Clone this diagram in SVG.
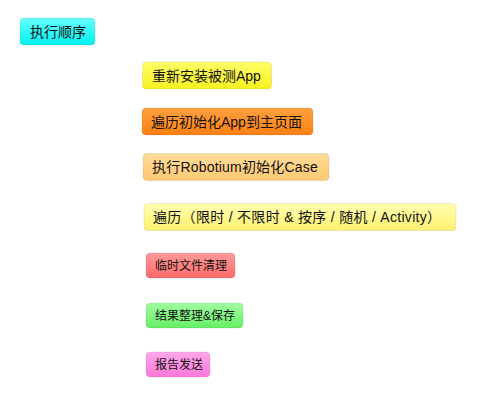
<svg xmlns="http://www.w3.org/2000/svg" width="477" height="419" viewBox="0 0 477 419">
<defs>
<linearGradient id="gCyan" x1="0" y1="0" x2="0" y2="1"><stop offset="0" stop-color="#66ffff"/><stop offset="1" stop-color="#00f0f0"/></linearGradient>
<linearGradient id="gYellow" x1="0" y1="0" x2="0" y2="1"><stop offset="0" stop-color="#ffff66"/><stop offset="1" stop-color="#f8f020"/></linearGradient>
<linearGradient id="gOrange" x1="0" y1="0" x2="0" y2="1"><stop offset="0" stop-color="#ffa040"/><stop offset="1" stop-color="#ff8010"/></linearGradient>
<linearGradient id="gLtOrange" x1="0" y1="0" x2="0" y2="1"><stop offset="0" stop-color="#ffdc9a"/><stop offset="1" stop-color="#ffc870"/></linearGradient>
<linearGradient id="gPale" x1="0" y1="0" x2="0" y2="1"><stop offset="0" stop-color="#ffffb0"/><stop offset="1" stop-color="#fff070"/></linearGradient>
<linearGradient id="gRed" x1="0" y1="0" x2="0" y2="1"><stop offset="0" stop-color="#ff9a9a"/><stop offset="1" stop-color="#ff6a6a"/></linearGradient>
<linearGradient id="gGreen" x1="0" y1="0" x2="0" y2="1"><stop offset="0" stop-color="#a0ffa0"/><stop offset="1" stop-color="#66ee66"/></linearGradient>
<linearGradient id="gPink" x1="0" y1="0" x2="0" y2="1"><stop offset="0" stop-color="#ffa8ee"/><stop offset="1" stop-color="#ff78d8"/></linearGradient>
</defs>
<style>
.box{stroke:#000;stroke-opacity:0.08;stroke-width:1}
.t{font-family:"Liberation Sans","Noto Sans CJK SC",sans-serif;fill:#111;dominant-baseline:central}
.big{font-size:14px}
.sm{font-size:12px}
</style>
<rect width="477" height="419" fill="#fff"/>
<g id="n0"><rect class="box" x="20" y="18" width="75" height="27" rx="4" fill="url(#gCyan)"/><text class="t big" x="30" y="31.5">执行顺序</text></g>
<g id="n1"><rect class="box" x="142.5" y="62" width="129" height="27" rx="4" fill="url(#gYellow)"/><text class="t big" x="152" y="75.5">重新安装被测App</text></g>
<g id="n2"><rect class="box" x="142" y="108" width="171" height="27" rx="4" fill="url(#gOrange)"/><text class="t big" x="151" y="121.5">遍历初始化App到主页面</text></g>
<g id="n3"><rect class="box" x="143" y="153.5" width="186" height="27" rx="4" fill="url(#gLtOrange)"/><text class="t big" x="152" y="167" letter-spacing="0.2">执行Robotium初始化Case</text></g>
<g id="n4"><rect class="box" x="144" y="203.5" width="312" height="27" rx="4" fill="url(#gPale)"/><text class="t big" x="153" y="217" letter-spacing="0.3">遍历（限时 / 不限时 &amp; 按序 / 随机 / Activity）</text></g>
<g id="n5"><rect class="box" x="146" y="253" width="89" height="25" rx="4" fill="url(#gRed)"/><text class="t sm" x="155" y="265.5">临时文件清理</text></g>
<g id="n6"><rect class="box" x="146" y="303" width="97" height="25" rx="4" fill="url(#gGreen)"/><text class="t sm" x="155" y="315.5">结果整理&amp;保存</text></g>
<g id="n7"><rect class="box" x="146" y="352" width="64" height="25" rx="4" fill="url(#gPink)"/><text class="t sm" x="155" y="364.5">报告发送</text></g>
<g id="connectors"></g>
</svg>
